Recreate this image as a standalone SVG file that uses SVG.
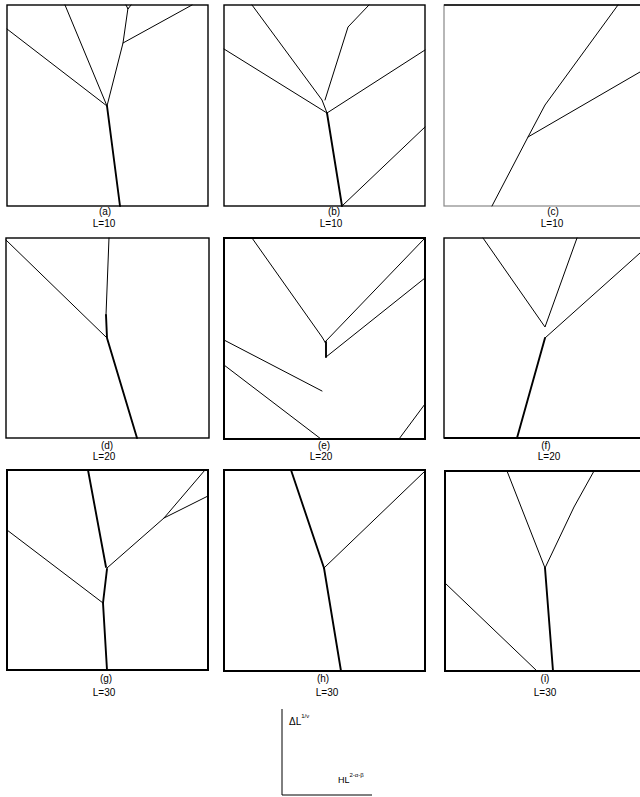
<svg xmlns="http://www.w3.org/2000/svg" width="640" height="797" viewBox="0 0 640 797">
<style>
.frame{fill:#fff;stroke:#000;stroke-width:1.4}
.frame2{fill:#fff;stroke:#000;stroke-width:2}
.c{fill:none;stroke:#000;stroke-width:1;stroke-linejoin:round;stroke-linecap:round}
.t{fill:none;stroke:#000;stroke-width:1.9;stroke-linejoin:round;stroke-linecap:round}
.lbl{font-family:"Liberation Sans",Arial,sans-serif;font-size:10px;fill:#000;text-anchor:middle}
.ax{font-family:"Liberation Sans",Arial,sans-serif;fill:#000}
</style>
<rect width="640" height="797" fill="#fff"/>

<g id="panel-a">
<rect class="frame" x="7" y="5" width="201" height="201"/>
<path class="c" d="M7,29 L107,106"/>
<path class="c" d="M65,5 L107,106"/>
<path class="c" d="M107,106 L123,43 L128,8"/>
<path class="c" d="M126,5 L128,9 L131,5"/>
<path class="c" d="M123,43 L192,5"/>
<path class="t" d="M107,106 L120,206"/>
<text class="lbl" x="105" y="215">(a)</text>
<text class="lbl" x="104" y="227">L=10</text>
</g>

<g id="panel-b">
<rect class="frame" x="224" y="5" width="201" height="201"/>
<path class="c" d="M252,5 L322,100 L327,113"/>
<path class="c" d="M224,49 L327,113"/>
<path class="c" d="M369,5 L348,27 L325,100"/>
<path class="c" d="M425,50 L327,113"/>
<path class="t" d="M327,113 L342,206"/>
<path class="c" d="M342,206 L425,127"/>
<text class="lbl" x="334" y="215">(b)</text>
<text class="lbl" x="331" y="227">L=10</text>
</g>

<g id="panel-c">
<rect x="444" y="5" width="205" height="201" fill="#fff" stroke="#888" stroke-width="1.2"/>
<path d="M444,5 L640,5" stroke="#000" stroke-width="1.4"/>
<path class="c" d="M492,206 L528,137 L545,105 L618,5"/>
<path class="c" d="M528,137 L640,72"/>
<text class="lbl" x="553" y="215">(c)</text>
<text class="lbl" x="552" y="227">L=10</text>
</g>

<g id="panel-d">
<rect class="frame" x="6" y="238" width="203" height="200"/>
<path class="c" d="M6,240 L107,338"/>
<path class="c" d="M109,238 L106,315"/>
<path class="t" d="M106,315 L107,338 L137,438"/>
<text class="lbl" x="107" y="449">(d)</text>
<text class="lbl" x="104" y="460">L=20</text>
</g>

<g id="panel-e">
<rect class="frame2" x="224" y="238" width="201" height="201"/>
<path class="c" d="M252,238 L322,337 L325,342"/>
<path class="c" d="M325,342 L425,238"/>
<path class="t" d="M326,342 L326,357"/>
<path class="c" d="M326,357 L425,278"/>
<path class="c" d="M224,340 L322,391"/>
<path class="c" d="M224,365 L321,439"/>
<path class="c" d="M399,439 L425,404"/>
<text class="lbl" x="324" y="449">(e)</text>
<text class="lbl" x="321" y="460">L=20</text>
</g>

<g id="panel-f">
<rect class="frame" x="444" y="238" width="205" height="200"/>
<path d="M444,438 L640,438" stroke="#000" stroke-width="2"/>
<path class="c" d="M483,238 L545,327 L577,238"/>
<path class="c" d="M640,253 L545,338"/>
<path class="t" d="M545,338 L517,438"/>
<text class="lbl" x="546" y="449">(f)</text>
<text class="lbl" x="549" y="460">L=20</text>
</g>

<g id="panel-g">
<rect class="frame2" x="7" y="470" width="201" height="200"/>
<path class="t" d="M88,470 L106,567"/>
<path class="t" d="M107,569 L103,603 L107,670"/>
<path class="c" d="M7,530 L103,603"/>
<path class="c" d="M107,568 L164,518 L205,470"/>
<path class="c" d="M164,518 L208,496"/>
<text class="lbl" x="106" y="682">(g)</text>
<text class="lbl" x="104" y="696">L=30</text>
</g>

<g id="panel-h">
<rect class="frame2" x="224" y="470" width="201" height="201"/>
<path class="t" d="M291,470 L324,568"/>
<path class="c" d="M324,568 L424,472"/>
<path class="t" d="M324,568 L341,671"/>
<text class="lbl" x="323" y="682">(h)</text>
<text class="lbl" x="327" y="696">L=30</text>
</g>

<g id="panel-i">
<rect class="frame2" x="445" y="471" width="205" height="200"/>
<path class="c" d="M507,471 L545,568"/>
<path class="c" d="M594,471 L574,507 L545,568"/>
<path class="t" d="M545,568 L553,671"/>
<path class="c" d="M445,583 L537,671"/>
<text class="lbl" x="545" y="682">(i)</text>
<text class="lbl" x="545" y="696">L=30</text>
</g>

<g id="axes">
<path d="M282,709 L282,795 L372,795" fill="none" stroke="#000" stroke-width="1"/>
<text class="ax" x="289" y="725" font-size="10">ΔL<tspan font-size="6" dy="-7">1/ν</tspan></text>
<text class="ax" x="338" y="783" font-size="9">HL<tspan font-size="6" dy="-6">2-α-β</tspan></text>
</g>
</svg>
